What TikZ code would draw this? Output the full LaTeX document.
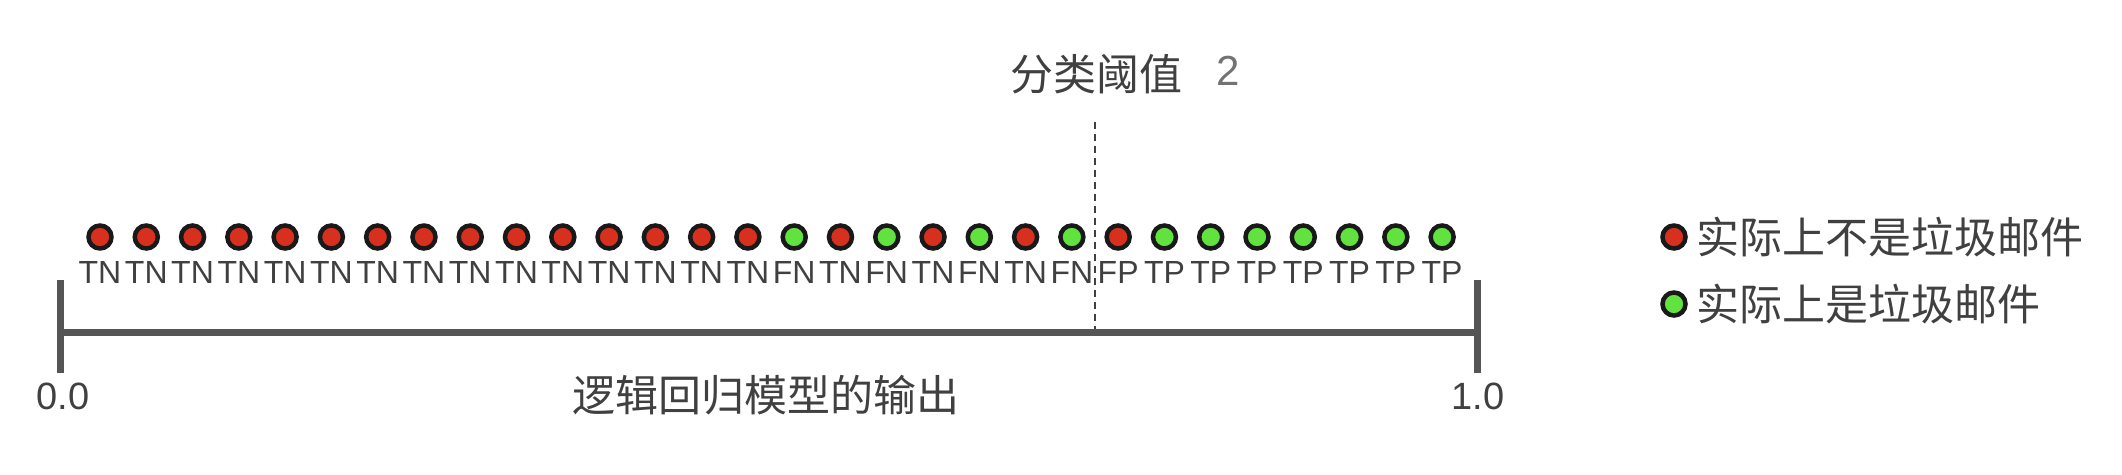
\documentclass[tikz,border=0pt]{standalone}
\usepackage{fontspec}
\setmainfont{Liberation Sans}
\newfontfamily\cjk{Noto Sans CJK SC}
\usetikzlibrary{positioning}
\definecolor{axisGray}{HTML}{555555}
\definecolor{textGray}{HTML}{404040}
\definecolor{hamRed}{HTML}{D8301E}
\definecolor{spamGreen}{HTML}{62E23E}

\begin{document}
\begin{tikzpicture}[
    x=1pt, y=-1pt,
    axis/.style={line width=7pt,draw=axisGray},
    thresh/.style={line width=2pt,draw=textGray,dash pattern=on 7pt off 5pt},
    dot/.style={circle,draw=black!90,line width=4.5pt,minimum size=23pt,inner sep=0pt},
    ham/.style={dot,fill=hamRed},
    spam/.style={dot,fill=spamGreen},
    lab/.style={font=\fontsize{32}{32}\selectfont,text=textGray,inner sep=0pt},
    num/.style={font=\fontsize{38}{38}\selectfont,text=textGray,inner sep=0pt},
    cjktext/.style={font=\cjk\fontsize{43}{46}\selectfont,text=textGray,inner sep=0pt}
]
    \useasboundingbox (0,0) rectangle (2122,474);

    % threshold
    \coordinate (thTop) at (1095,122);
    \coordinate (thBot) at (1095,332);
    \draw[thresh] (thTop) -- (thBot);
    \node[cjktext] (title) at (1096,74) {分类阈值};
    \node[font=\fontsize{42}{42}\selectfont,text=black!55,inner sep=0pt] (two) at (1228,71) {2};

    % axis
    \coordinate (o) at (60,332);
    \coordinate (e) at (1477,332);
    \coordinate (oTop) at (60,280);
    \coordinate (oBot) at (60,373);
    \coordinate (eTop) at (1477,280);
    \coordinate (eBot) at (1477,373);
    \draw[axis] (o) -- (e);
    \draw[axis] (oTop) -- (oBot);
    \draw[axis] (eTop) -- (eBot);
    \node[num] (zero) at (63,396) {0.0};
    \node[num] (one) at (1478,396) {1.0};
    \node[cjktext] (xlabel) at (766,395) {逻辑回归模型的输出};

    % examples
    \foreach \lab/\kind [count=\i] in {TN/ham,TN/ham,TN/ham,TN/ham,TN/ham,
        TN/ham,TN/ham,TN/ham,TN/ham,TN/ham,TN/ham,TN/ham,TN/ham,TN/ham,TN/ham,
        FN/spam,TN/ham,FN/spam,TN/ham,FN/spam,TN/ham,FN/spam,
        FP/ham,TP/spam,TP/spam,TP/spam,TP/spam,TP/spam,TP/spam,TP/spam}{
        \node[\kind] (d\i) at ({100+(\i-1)*46.28},237) {};
        \node[lab] (l\i) [below=11pt of d\i] {\lab};
    }

    % legend
    \node[ham] (hamKey) at (1674,237) {};
    \node[cjktext] (hamText) [right=9pt of hamKey] {实际上不是垃圾邮件};
    \node[spam] (spamKey) at (1674,304) {};
    \node[cjktext] (spamText) [right=9pt of spamKey] {实际上是垃圾邮件};
\end{tikzpicture}
\end{document}
